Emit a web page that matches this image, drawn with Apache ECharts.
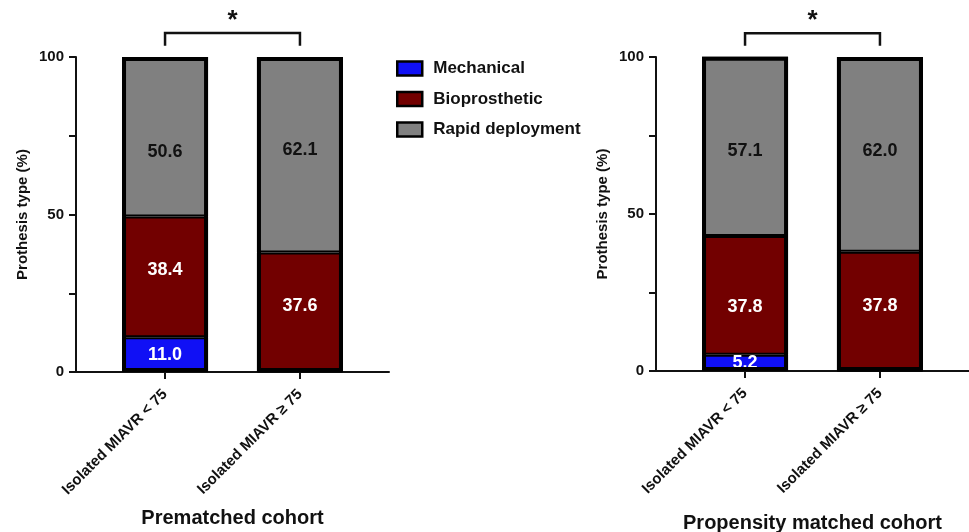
<!DOCTYPE html>
<html>
<head>
<meta charset="utf-8">
<script src="https://cdn.jsdelivr.net/npm/echarts@6/dist/echarts.min.js"></script>
<style>
  html, body { margin: 0; padding: 0; background: #fff; }
  #chart { width: 969px; height: 532px; }
</style>
</head>
<body>
<div id="chart"></div>
<script>
// Prosthesis type by age group, before and after propensity matching
const categories = ['Isolated MIAVR < 75', 'Isolated MIAVR \u2265 75'];
const seriesNames = ['Mechanical', 'Bioprosthetic', 'Rapid deployment'];
const yTicks = [0, 50, 100];

const prematchedMechanical = [11.0, 0.3];
const prematchedBioprosthetic = [38.4, 37.6];
const prematchedRapid = [50.6, 62.1];

const matchedMechanical = [5.2, 0.2];
const matchedBioprosthetic = [37.8, 37.8];
const matchedRapid = [57.1, 62.0];

const panelTitles = ['Prematched cohort', 'Propensity matched cohort'];
const yAxisTitle = 'Prothesis type (%)';

const colors = ['#1010f5', '#720000', '#808080'];
const labelColors = ['#ffffff', '#ffffff', '#111111'];
const FONT = '"Liberation Sans", Arial, sans-serif';

// Vertical nudges (px) for the value labels: [panel][series][group]
const labelNudge = [
  [[0, 0], [-7, -6], [15, -5]],
  [[0, 0], [12, -5], [5, -3]]
];

const chart = echarts.init(document.getElementById('chart'), null, { renderer: 'canvas' });

function xAxisFor(gridIndex, title, gap) {
  return {
    type: 'value', gridIndex, min: -0.66, max: 1.66,
    splitLine: { show: false },
    axisLine: { show: true, onZero: false, lineStyle: { color: '#111', width: 2 } },
    axisTick: { show: true, customValues: [0, 1], length: 7, lineStyle: { color: '#111', width: 2 } },
    axisLabel: {
      customValues: [0, 1], rotate: 45, margin: 20,
      formatter: v => categories[Math.round(v)],
      color: '#111', fontFamily: FONT, fontWeight: 'bold', fontSize: 15
    },
    name: title, nameLocation: 'middle', nameGap: gap,
    nameTextStyle: { color: '#111', fontFamily: FONT, fontWeight: 'bold', fontSize: 20 }
  };
}

function yAxisFor(gridIndex) {
  return {
    type: 'value', gridIndex, min: 0, max: 100, interval: 50,
    splitLine: { show: false },
    axisLine: { show: true, onZero: false, lineStyle: { color: '#111', width: 2 } },
    axisTick: { show: true, length: 7, lineStyle: { color: '#111', width: 2 } },
    minorTick: { show: true, splitNumber: 2, length: 7, lineStyle: { color: '#111', width: 2 } },
    axisLabel: {
      customValues: yTicks, margin: 12,
      color: '#111', fontFamily: FONT, fontWeight: 'bold', fontSize: 15
    },
    name: yAxisTitle, nameLocation: 'middle', nameGap: 46, nameRotate: 90,
    nameTextStyle: { color: '#111', fontFamily: FONT, fontWeight: 'bold', fontSize: 15 }
  };
}

// Percentage comes first in each row so the stack accumulates along y; rows stack by index
function barSeries(name, idx, values, gridIndex) {
  return {
    name, type: 'bar', stack: 'panel' + gridIndex,
    xAxisIndex: gridIndex, yAxisIndex: gridIndex,
    barWidth: 86, barGap: '-100%',
    encode: { x: 1, y: 0 },
    data: values.map((v, i) => ({
      value: [v, i],
      label: { offset: [0, labelNudge[gridIndex][idx][i]] }
    })),
    itemStyle: { color: colors[idx], borderColor: '#000', borderWidth: 2 },
    label: {
      show: true, position: 'inside',
      formatter: p => (p.value[0] >= 1 ? p.value[0].toFixed(1) : ''),
      color: labelColors[idx], fontFamily: FONT, fontWeight: 'bold', fontSize: 18
    },
    emphasis: { disabled: true }
  };
}

// Heavy frame around each whole column
function frameSeries(panel, gridIndex) {
  const totals = panel[0].map((_, i) => panel.reduce((s, arr) => s + arr[i], 0));
  return {
    type: 'bar', xAxisIndex: gridIndex, yAxisIndex: gridIndex,
    barWidth: 86, barGap: '-100%', silent: true, z: 3,
    encode: { x: 1, y: 0 },
    data: totals.map((t, i) => [t, i]),
    itemStyle: { color: 'rgba(0,0,0,0)', borderColor: '#000', borderWidth: 4 },
    label: { show: false },
    emphasis: { disabled: true }
  };
}

const panels = [
  [prematchedMechanical, prematchedBioprosthetic, prematchedRapid],
  [matchedMechanical, matchedBioprosthetic, matchedRapid]
];

const series = [];
panels.forEach((panel, g) => {
  panel.forEach((vals, k) => series.push(barSeries(seriesNames[k], k, vals, g)));
  series.push(frameSeries(panel, g));
});

chart.setOption({
  animation: false,
  backgroundColor: '#fff',
  grid: [
    { left: 76, top: 57, width: 313, height: 315, outerBoundsMode: 'none', containLabel: false },
    { left: 656, top: 57, width: 313, height: 314, outerBoundsMode: 'none', containLabel: false }
  ],
  xAxis: [xAxisFor(0, panelTitles[0], 136), xAxisFor(1, panelTitles[1], 142)],
  yAxis: [yAxisFor(0), yAxisFor(1)],
  legend: {
    orient: 'vertical', left: 396, top: 60, padding: 0,
    itemWidth: 25, itemHeight: 14, itemGap: 13.5,
    icon: 'rect',
    data: seriesNames,
    itemStyle: { borderColor: '#000', borderWidth: 2.5 },
    textStyle: { color: '#111', fontFamily: FONT, fontWeight: 'bold', fontSize: 17, padding: [0, 0, 0, 6] },
    selectedMode: false
  },
  series
});

// Significance brackets between the two groups of each panel
const graphics = [];
[0, 1].forEach(g => {
  const a = chart.convertToPixel({ xAxisIndex: g, yAxisIndex: g }, [0, 107.6]);
  const b = chart.convertToPixel({ xAxisIndex: g, yAxisIndex: g }, [1, 107.6]);
  const foot = chart.convertToPixel({ xAxisIndex: g, yAxisIndex: g }, [0, 103.6]);
  const star = chart.convertToPixel({ xAxisIndex: g, yAxisIndex: g }, [0.5, 111.5]);
  graphics.push({
    type: 'polyline',
    shape: { points: [[a[0], foot[1]], [a[0], a[1]], [b[0], b[1]], [b[0], foot[1]]] },
    style: { stroke: '#111', lineWidth: 2.5, fill: null }
  });
  graphics.push({
    type: 'text', x: star[0], y: star[1],
    style: { text: '*', font: 'bold 26px ' + FONT, fill: '#111', align: 'center', verticalAlign: 'middle' }
  });
});
chart.setOption({ graphic: graphics });
</script>
</body>
</html>
